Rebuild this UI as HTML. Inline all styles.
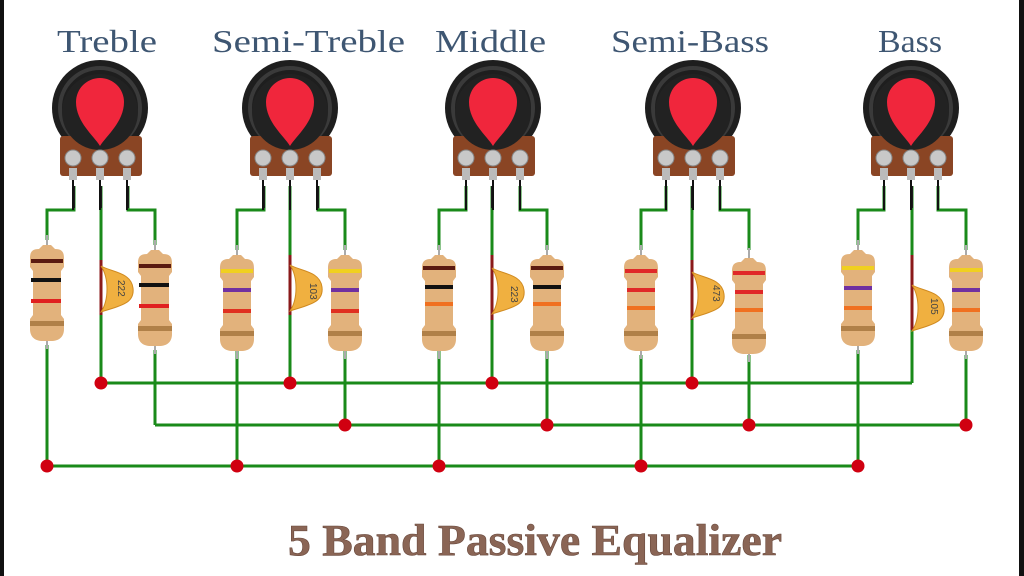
<!DOCTYPE html>
<html><head><meta charset="utf-8"><style>
html,body{margin:0;padding:0;background:#fff;}
svg{display:block;}
</style></head><body>
<svg width="1024" height="576" viewBox="0 0 1024 576" xmlns="http://www.w3.org/2000/svg">
<defs>
<g id="pot">
 <circle cx="0" cy="0" r="48" fill="#1e1e1e"/>
 <circle cx="0" cy="0" r="40" fill="none" stroke="#3a3a3a" stroke-width="4"/>
 <rect x="-40" y="28" width="82" height="40" rx="3" fill="#8a4524"/>
 <circle cx="0" cy="4" r="38" fill="#222"/>
 <path d="M0,38 C-6,28 -24,14 -24,-6 A24,24 0 0 1 24,-6 C24,14 6,28 0,38 Z" fill="#f0263c"/>
 <circle cx="-27" cy="50" r="8" fill="#c8c8c8" stroke="#888" stroke-width="1"/>
 <circle cx="0" cy="50" r="8" fill="#c8c8c8" stroke="#888" stroke-width="1"/>
 <circle cx="27" cy="50" r="8" fill="#c8c8c8" stroke="#888" stroke-width="1"/>
 <rect x="-31" y="60" width="8" height="12" fill="#bbb"/>
 <rect x="-4" y="60" width="8" height="12" fill="#bbb"/>
 <rect x="23" y="60" width="8" height="12" fill="#bbb"/>
 <rect x="-28" y="72" width="2" height="30" fill="#111"/>
 <rect x="-1" y="72" width="2" height="30" fill="#111"/>
 <rect x="26" y="72" width="2" height="30" fill="#111"/>
</g>
<g id="res">
 <rect x="-1" y="0" width="2" height="14" fill="#aaa"/>
 <rect x="-1" y="100" width="2" height="14" fill="#aaa"/>
 <path d="M-4,10 L4,10 L8,14 C16,14 17,18 17,24 L17,32 L14,36 L14,80 L17,84 L17,94 C17,102 12,106 4,106 L-4,106 C-12,106 -17,102 -17,94 L-17,84 L-14,80 L-14,36 L-17,32 L-17,24 C-17,18 -16,14 -8,14 Z" fill="#e2b27c"/>
 <rect x="-17" y="86" width="34" height="5" fill="#b08048"/>
</g>
<path id="cap" d="M0,0 C10,6 30,6 32,22 C34,38 18,40 0,46 C8,34 8,12 0,0 Z" fill="#f0b040" stroke="#d08a20" stroke-width="1"/>
</defs>

<rect x="0" y="0" width="4" height="576" fill="#111"/>
<rect x="1019" y="0" width="5" height="576" fill="#111"/>

<g font-family="'Liberation Serif',serif" font-size="32" fill="#3e5672">
<text x="57" y="52" textLength="100" lengthAdjust="spacingAndGlyphs">Treble</text>
<text x="212" y="52" textLength="193" lengthAdjust="spacingAndGlyphs">Semi-Treble</text>
<text x="435" y="52" textLength="111" lengthAdjust="spacingAndGlyphs">Middle</text>
<text x="611" y="52" textLength="158" lengthAdjust="spacingAndGlyphs">Semi-Bass</text>
<text x="878" y="52" textLength="64" lengthAdjust="spacingAndGlyphs">Bass</text>
</g>

<g fill="none" stroke="#1a8a1a" stroke-width="3">
 <!-- unit wiring: L pin -> left resistor, R pin -> right resistor -->
 <path d="M74,186 V210 H47 V240 M128,186 V210 H155 V245"/>
 <path d="M264,186 V210 H237 V250 M318,186 V210 H345 V250"/>
 <path d="M466,186 V210 H439 V250 M520,186 V210 H547 V250"/>
 <path d="M666,186 V210 H641 V250 M720,186 V210 H749 V250"/>
 <path d="M884,186 V210 H858 V245 M938,186 V210 H966 V250"/>
 <!-- cap verticals -->
 <path d="M101,186 V383 M290,186 V383 M492,186 V383 M692,186 V383 M912,186 V383"/>
 <!-- resistor bottoms -->
 <path d="M47,345 V466 M155,350 V425 M237,350 V466 M345,350 V425 M439,350 V466 M547,350 V425 M641,355 V466 M749,355 V425 M858,350 V466 M966,355 V425"/>
 <!-- buses -->
 <path d="M101,383 H912 M155,425 H966 M47,466 H858"/>
</g>
<g stroke="#1a1a1a" stroke-width="2">
 <path d="M74,186 V208 M101,186 V208 M128,186 V208 M264,186 V208 M290,186 V208 M318,186 V208 M466,186 V208 M492,186 V208 M520,186 V208 M666,186 V208 M692,186 V208 M720,186 V208 M884,186 V208 M912,186 V208 M938,186 V208"/>
</g>
<g stroke="#8a1a1a" stroke-width="3">
 <path d="M101,260 V315 M290,255 V315 M492,255 V320 M692,260 V320 M912,255 V330"/>
</g>

<use href="#pot" x="100" y="108"/>
<use href="#pot" x="290" y="108"/>
<use href="#pot" x="493" y="108"/>
<use href="#pot" x="693" y="108"/>
<use href="#pot" x="911" y="108"/>

<!-- resistors -->
<use href="#res" x="47" y="235"/>
<use href="#res" x="155" y="240"/>
<use href="#res" x="237" y="245"/>
<use href="#res" x="345" y="245"/>
<use href="#res" x="439" y="245"/>
<use href="#res" x="547" y="245"/>
<use href="#res" x="641" y="245"/>
<use href="#res" x="749" y="248"/>
<use href="#res" x="858" y="240"/>
<use href="#res" x="966" y="245"/>

<g>
 <!-- bands: y offsets 25,45,65 relative to top -->
 <rect x="31" y="259" width="32" height="4" fill="#5a1a10"/><rect x="31" y="278" width="30" height="4" fill="#111"/><rect x="31" y="299" width="30" height="4" fill="#e02020"/>
 <rect x="139" y="264" width="32" height="4" fill="#5a1a10"/><rect x="139" y="283" width="30" height="4" fill="#111"/><rect x="139" y="304" width="30" height="4" fill="#e02020"/>
 <rect x="221" y="269" width="32" height="4" fill="#f0d020"/><rect x="223" y="288" width="28" height="4" fill="#7030a0"/><rect x="223" y="309" width="28" height="4" fill="#e03020"/>
 <rect x="329" y="269" width="32" height="4" fill="#f0d020"/><rect x="331" y="288" width="28" height="4" fill="#7030a0"/><rect x="331" y="309" width="28" height="4" fill="#e03020"/>
 <rect x="423" y="266" width="32" height="4" fill="#5a1a10"/><rect x="425" y="285" width="28" height="4" fill="#111"/><rect x="425" y="302" width="28" height="4" fill="#f07020"/>
 <rect x="531" y="266" width="32" height="4" fill="#5a1a10"/><rect x="533" y="285" width="28" height="4" fill="#111"/><rect x="533" y="302" width="28" height="4" fill="#f07020"/>
 <rect x="625" y="269" width="32" height="4" fill="#e02828"/><rect x="627" y="288" width="28" height="4" fill="#e02828"/><rect x="627" y="306" width="28" height="4" fill="#f07020"/>
 <rect x="733" y="271" width="32" height="4" fill="#e02828"/><rect x="735" y="290" width="28" height="4" fill="#e02828"/><rect x="735" y="308" width="28" height="4" fill="#f07020"/>
 <rect x="842" y="266" width="32" height="4" fill="#f0d020"/><rect x="844" y="286" width="28" height="4" fill="#7030a0"/><rect x="844" y="306" width="28" height="4" fill="#f07020"/>
 <rect x="950" y="268" width="32" height="4" fill="#f0d020"/><rect x="952" y="288" width="28" height="4" fill="#7030a0"/><rect x="952" y="308" width="28" height="4" fill="#f07020"/>
</g>

<!-- capacitors -->
<use href="#cap" x="101" y="266"/>
<use href="#cap" x="290" y="265"/>
<use href="#cap" x="492" y="268"/>
<use href="#cap" x="692" y="272"/>
<use href="#cap" x="912" y="285"/>
<g font-family="'Liberation Sans',sans-serif" font-size="10" fill="#444">
 <text transform="translate(118,280) rotate(90)">222</text>
 <text transform="translate(310,283) rotate(90)">103</text>
 <text transform="translate(511,286) rotate(90)">223</text>
 <text transform="translate(713,285) rotate(90)">473</text>
 <text transform="translate(931,298) rotate(90)">105</text>
</g>

<!-- dots -->
<g fill="#d00010">
 <circle cx="101" cy="383" r="6.5"/><circle cx="290" cy="383" r="6.5"/><circle cx="492" cy="383" r="6.5"/><circle cx="692" cy="383" r="6.5"/>
 <circle cx="345" cy="425" r="6.5"/><circle cx="547" cy="425" r="6.5"/><circle cx="749" cy="425" r="6.5"/><circle cx="966" cy="425" r="6.5"/>
 <circle cx="47" cy="466" r="6.5"/><circle cx="237" cy="466" r="6.5"/><circle cx="439" cy="466" r="6.5"/><circle cx="641" cy="466" r="6.5"/><circle cx="858" cy="466" r="6.5"/>
</g>

<text x="288" y="555" textLength="494" lengthAdjust="spacingAndGlyphs" font-family="'Liberation Serif',serif" font-weight="bold" font-size="44" fill="#8a6555" stroke="#6a4a3e" stroke-width="0.6">5 Band Passive Equalizer</text>
</svg>
</body></html>
